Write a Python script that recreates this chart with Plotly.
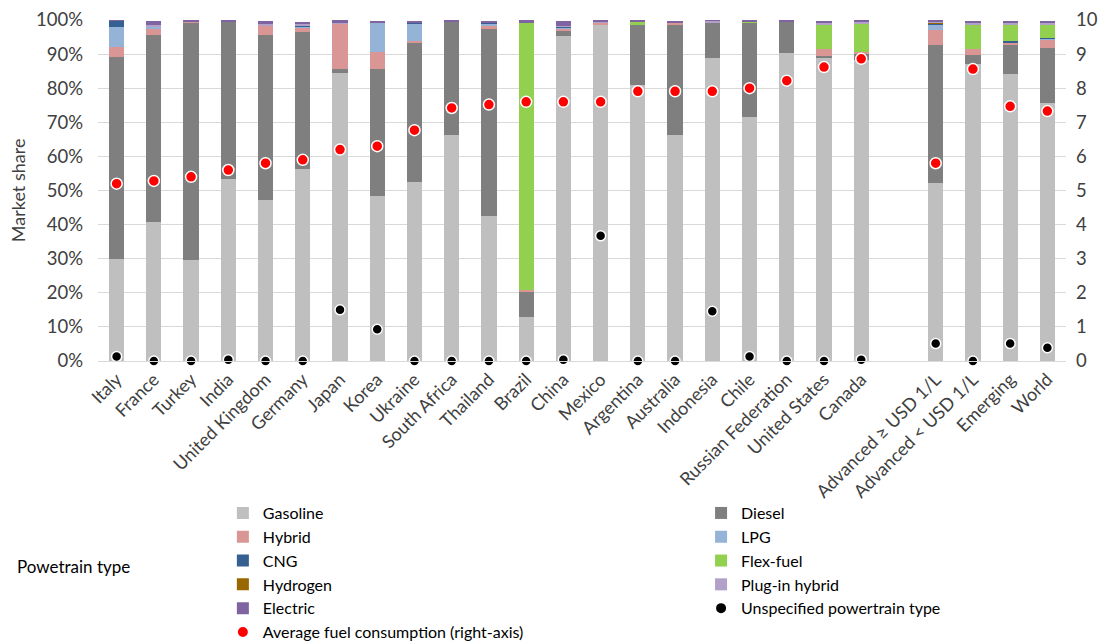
import plotly.graph_objects as go

categories = ["Italy", "France", "Turkey", "India", "United Kingdom", "Germany", "Japan", "Korea",
              "Ukraine", "South Africa", "Thailand", "Brazil", "China", "Mexico", "Argentina",
              "Australia", "Indonesia", "Chile", "Russian Federation", "United States", "Canada",
              "", "Advanced \u2265 USD 1/L", "Advanced < USD 1/L", "Emerging", "World"]

gasoline = [30.0, 40.8, 29.6, 53.4, 47.2, 56.3, 84.5, 48.4, 52.5, 66.3, 42.5, 12.9, 95.3, 98.5, 80.9,
            66.3, 88.9, 71.6, 90.4, 89.0, 88.3, None, 52.2, 87.2, 84.2, 75.7]
diesel = [59.2, 54.8, 69.6, 46.2, 48.4, 40.2, 1.2, 37.3, 40.8, 33.2, 54.9, 7.3, 1.6, 0.0, 17.6,
          32.2, 10.4, 27.6, 9.1, 0.3, 1.7, None, 40.6, 2.5, 8.7, 16.2]
hybrid = [3.0, 2.0, 0.4, 0.0, 2.6, 1.2, 13.4, 5.0, 0.4, 0.0, 0.9, 0.7, 0.6, 0.8, 0.0,
          0.7, 0.0, 0.0, 0.0, 2.3, 0.6, None, 4.4, 1.8, 0.5, 2.4]
lpg = [5.8, 0.5, 0.0, 0.0, 0.0, 0.4, 0.0, 8.5, 5.2, 0.0, 0.6, 0.0, 0.3, 0.0, 0.0,
       0.0, 0.0, 0.0, 0.0, 0.0, 0.0, None, 1.5, 0.0, 0.0, 0.3]
cng = [1.8, 0.0, 0.0, 0.0, 0.0, 0.3, 0.0, 0.0, 0.5, 0.0, 0.4, 0.0, 0.3, 0.0, 0.0,
       0.0, 0.0, 0.0, 0.0, 0.0, 0.0, None, 0.3, 0.0, 0.5, 0.1]
flexfuel = [0.0, 0.0, 0.0, 0.0, 0.0, 0.0, 0.0, 0.0, 0.0, 0.0, 0.0, 78.5, 0.0, 0.0, 1.0,
            0.0, 0.0, 0.3, 0.0, 7.1, 8.5, None, 0.0, 7.0, 4.5, 3.7]
hydrogen = [0.0, 0.0, 0.0, 0.0, 0.0, 0.0, 0.0, 0.0, 0.0, 0.0, 0.0, 0.0, 0.0, 0.0, 0.0,
            0.0, 0.0, 0.0, 0.0, 0.0, 0.0, None, 0.2, 0.0, 0.0, 0.0]
plugin_hybrid = [0.0, 0.5, 0.0, 0.0, 0.9, 0.4, 0.3, 0.0, 0.0, 0.2, 0.0, 0.0, 0.2, 0.2, 0.2,
                 0.1, 0.5, 0.0, 0.0, 0.5, 0.4, None, 0.4, 0.7, 0.8, 0.7]
electric = [0.3, 1.0, 0.4, 0.4, 0.5, 0.7, 0.5, 0.6, 0.4, 0.3, 0.5, 0.5, 1.5, 0.3, 0.2,
            0.5, 0.1, 0.4, 0.4, 0.4, 0.4, None, 0.4, 0.4, 0.6, 0.6]
unspecified = [1.3, 0.0, 0.0, 0.4, 0.0, 0.0, 15.0, 9.3, 0.0, 0.0, 0.0, 0.0, 0.4, 36.7, 0.0,
               0.0, 14.6, 1.3, 0.0, 0.0, 0.4, None, 5.1, 0.0, 5.1, 3.9]
avg_fuel = [5.2, 5.28, 5.4, 5.6, 5.8, 5.9, 6.2, 6.3, 6.77, 7.42, 7.52, 7.6, 7.6, 7.6, 7.91,
            7.91, 7.91, 8.0, 8.22, 8.62, 8.86, None, 5.8, 8.56, 7.47, 7.33]

left_ticks = [0, 10, 20, 30, 40, 50, 60, 70, 80, 90, 100]
right_ticks = [0, 1, 2, 3, 4, 5, 6, 7, 8, 9, 10]

xpos = list(range(len(categories)))
FONT = "Lato, Liberation Sans, sans-serif"
TXT = "#404040"

# (name, values, colour, legend column)
series = [
    ("Gasoline", gasoline, "#bfbfbf", "legend"),
    ("Diesel", diesel, "#7f7f7f", "legend2"),
    ("Hybrid", hybrid, "#da9694", "legend"),
    ("LPG", lpg, "#95b3d7", "legend2"),
    ("CNG", cng, "#376092", "legend"),
    ("Flex-fuel", flexfuel, "#92d050", "legend2"),
    ("Hydrogen", hydrogen, "#996600", "legend"),
    ("Plug-in hybrid", plugin_hybrid, "#b1a0c7", "legend2"),
    ("Electric", electric, "#8064a2", "legend"),
]

fig = go.Figure()
for name, vals, col, lg in series:
    fig.add_trace(go.Bar(x=xpos, y=vals, name=name, legend=lg,
                         marker=dict(color=col, line=dict(width=0)), width=0.41))

fig.add_trace(go.Scatter(x=xpos, y=unspecified, name="Unspecified powertrain type", mode="markers",
                         legend="legend2",
                         marker=dict(color="black", size=10, line=dict(color="white", width=1.5)),
                         cliponaxis=False))
fig.add_trace(go.Scatter(x=xpos, y=avg_fuel, name="Average fuel consumption (right-axis)", mode="markers",
                         yaxis="y2", legend="legend",
                         marker=dict(color="#ff0000", size=11, line=dict(color="white", width=1.5)),
                         cliponaxis=False))

leg_common = dict(orientation="v", yanchor="top", xanchor="left", traceorder="normal",
                  font=dict(family=FONT, size=16, color="#000000"), bgcolor="rgba(0,0,0,0)",
                  itemsizing="constant")

fig.update_layout(
    width=1105, height=644,
    barmode="stack",
    plot_bgcolor="white", paper_bgcolor="white",
    margin=dict(l=98, r=39, t=20, b=283, autoexpand=False),
    font=dict(family=FONT, size=18, color=TXT),
    xaxis=dict(range=[-0.5, len(categories) - 0.5], tickmode="array", tickvals=xpos,
               ticktext=categories, tickangle=-45, showgrid=False, showline=True,
               linecolor="#d9d9d9", linewidth=1, ticks="", zeroline=False,
               tickfont=dict(family=FONT, size=18, color=TXT)),
    yaxis=dict(range=[0, 100], tickmode="array", tickvals=left_ticks,
               ticktext=[f"{v}%" for v in left_ticks], showgrid=True, gridcolor="#d9d9d9",
               gridwidth=1, zeroline=False, showline=False, ticks="", ticklabelstandoff=14,
               tickfont=dict(family=FONT, size=18.5, color=TXT)),
    yaxis2=dict(range=[0, 10], overlaying="y", side="right", tickmode="array", tickvals=right_ticks,
                showgrid=False, zeroline=False, showline=False, ticks="", ticklabelstandoff=9,
                tickfont=dict(family=FONT, size=18.5, color=TXT)),
    legend=dict(x=0.129, y=-0.396, **leg_common),
    legend2=dict(x=0.623, y=-0.396, **leg_common),
    annotations=[
        dict(text="Powetrain type", xref="paper", yref="paper", x=-0.086, y=-0.604,
             xanchor="left", yanchor="middle", showarrow=False,
             font=dict(family=FONT, size=17, color="#000000")),
        dict(text="Market share", xref="paper", yref="paper", x=-0.083, y=0.5,
             xanchor="center", yanchor="middle", showarrow=False, textangle=-90,
             font=dict(family=FONT, size=18, color=TXT)),
    ],
)

fig.write_html("out.html", config={"displayModeBar": False},
               post_script="document.body.style.margin='0';document.body.style.overflow='hidden';")
